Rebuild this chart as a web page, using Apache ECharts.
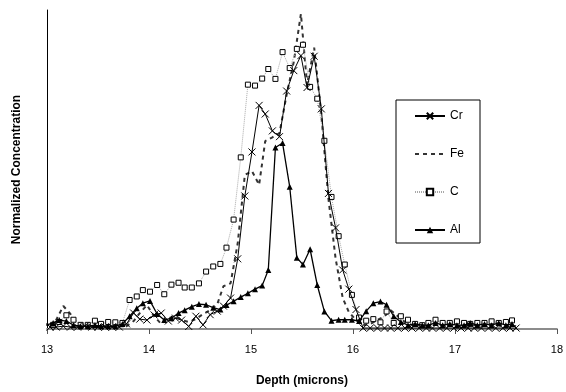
<!DOCTYPE html>
<html>
<head>
<meta charset="utf-8">
<script src="https://cdn.jsdelivr.net/npm/echarts@6/dist/echarts.min.js"></script>
<style>
  html, body { margin: 0; padding: 0; background: #fff; }
</style>
</head>
<body>
<div id="main" style="width: 566px;height:392px;"></div>
<script>
// depth (microns) sampled for C, Al
var depthA = [12.99,13.06,13.12,13.19,13.26,13.33,13.40,13.47,13.53,13.60,13.67,13.74,13.81,13.88,13.94,14.01,14.08,14.15,14.22,14.29,
  14.35,14.42,14.49,14.56,14.63,14.70,14.76,14.83,14.90,14.97,15.04,15.11,15.17,15.24,15.31,15.38,15.45,15.51,15.58,15.65,
  15.72,15.79,15.86,15.92,15.99,16.06,16.13,16.20,16.27,16.33,16.40,16.47,16.54,16.61,16.68,16.74,16.81,16.88,16.95,17.02,
  17.09,17.15,17.22,17.29,17.36,17.43,17.50,17.56];
// depth (microns) sampled for Cr, Fe
var depthB = [13.03,13.09,13.16,13.23,13.30,13.37,13.44,13.50,13.57,13.64,13.71,13.78,13.85,13.91,13.98,14.05,14.12,14.19,14.26,14.32,
  14.39,14.46,14.53,14.60,14.67,14.73,14.80,14.87,14.94,15.01,15.08,15.14,15.21,15.28,15.35,15.42,15.49,15.55,15.62,15.69,
  15.76,15.83,15.90,15.96,16.03,16.10,16.17,16.24,16.31,16.37,16.44,16.51,16.58,16.65,16.72,16.78,16.85,16.92,16.99,17.06,
  17.13,17.19,17.26,17.33,17.40,17.47,17.54,17.60];

var crValues = [0.006,0.006,0.009,0.006,0.006,0.009,0.006,0.006,0.006,0.006,
  0.006,0.016,0.050,0.031,0.028,0.044,0.050,0.025,0.034,0.028,
  0.008,0.040,0.013,0.045,0.056,0.072,0.097,0.220,0.417,0.555,
  0.701,0.674,0.621,0.603,0.746,0.810,0.857,0.757,0.855,0.690,
  0.425,0.317,0.185,0.125,0.061,0.003,0.003,0.003,0.003,0.003,
  0.003,0.003,0.003,0.003,0.003,0.003,0.003,0.003,0.003,0.003,
  0.003,0.003,0.003,0.003,0.003,0.003,0.003,0.003];
var feValues = [0.009,0.028,0.072,0.047,0.016,0.009,0.009,0.009,0.009,0.009,
  0.009,0.009,0.025,0.050,0.075,0.040,0.016,0.034,0.040,0.028,
  0.022,0.031,0.047,0.059,0.078,0.134,0.143,0.268,0.483,0.495,
  0.452,0.589,0.601,0.614,0.735,0.838,0.988,0.766,0.882,0.673,
  0.408,0.221,0.097,0.053,0.028,0.012,0.016,0.028,0.040,0.059,
  0.040,0.022,0.012,0.012,0.009,0.012,0.016,0.012,0.012,0.009,
  0.012,0.012,0.009,0.012,0.012,0.009,0.012,0.009];
var cValues = [0.016,0.013,0.022,0.043,0.029,0.013,0.013,0.026,0.016,0.022,
  0.021,0.019,0.091,0.102,0.122,0.117,0.138,0.109,0.139,0.145,
  0.130,0.130,0.143,0.180,0.196,0.204,0.255,0.343,0.538,0.766,
  0.763,0.785,0.815,0.784,0.868,0.818,0.878,0.891,0.759,0.722,
  0.590,0.414,0.291,0.202,0.107,0.036,0.026,0.031,0.021,0.055,
  0.019,0.040,0.029,0.016,0.012,0.019,0.029,0.019,0.019,0.024,
  0.019,0.016,0.019,0.019,0.024,0.019,0.022,0.027];
var alValues = [0.012,0.019,0.028,0.025,0.012,0.009,0.009,0.012,0.009,0.009,
  0.009,0.016,0.040,0.065,0.081,0.088,0.047,0.028,0.034,0.050,
  0.059,0.070,0.078,0.076,0.067,0.061,0.075,0.087,0.100,0.112,
  0.125,0.136,0.185,0.569,0.583,0.446,0.223,0.202,0.250,0.138,
  0.055,0.026,0.029,0.029,0.029,0.025,0.056,0.081,0.086,0.076,
  0.040,0.022,0.012,0.016,0.012,0.012,0.019,0.012,0.016,0.012,
  0.012,0.019,0.012,0.016,0.012,0.019,0.012,0.016];

var xTicks = [13, 14, 15, 16, 17, 18];

function pairs(xs, ys) {
  return ys.map(function (v, i) { return [xs[i], v]; });
}

var myChart = echarts.init(document.getElementById('main'));
var font = '"Liberation Sans", Arial, sans-serif';

var option = {
  animation: false,
  backgroundColor: '#fff',
  grid: { left: 47, right: 3, top: 10, bottom: 61 },
  legend: {
    orient: 'vertical',
    left: 396,
    top: 100,
    padding: [10, 16, 7, 18],
    borderColor: '#000',
    borderWidth: 1,
    itemWidth: 30,
    itemHeight: 8,
    itemGap: 26,
    textStyle: { fontFamily: font, fontSize: 12, color: '#000' },
    data: ['Cr', 'Fe', 'C', 'Al']
  },
  xAxis: {
    type: 'value',
    min: xTicks[0],
    max: xTicks[xTicks.length - 1],
    interval: 1,
    name: 'Depth (microns)',
    nameLocation: 'middle',
    nameGap: 46,
    nameTextStyle: { fontFamily: font, fontSize: 12, fontWeight: 'bold', color: '#000' },
    axisLine: { onZero: false, lineStyle: { color: '#8c8c8c', width: 2 } },
    axisTick: { show: true, length: 5, lineStyle: { color: '#555', width: 1 } },
    axisLabel: { fontFamily: font, fontSize: 11, color: '#000', margin: 15 },
    splitLine: { show: false }
  },
  yAxis: {
    type: 'value',
    min: 0,
    max: 1,
    name: 'Normalized Concentration',
    nameLocation: 'middle',
    nameGap: 24,
    nameTextStyle: { fontFamily: font, fontSize: 12, fontWeight: 'bold', color: '#000' },
    axisLine: { show: true, lineStyle: { color: '#000', width: 1 } },
    axisTick: { show: false },
    axisLabel: { show: false },
    splitLine: { show: false }
  },
  series: [
    {
      name: 'Cr',
      type: 'line',
      data: pairs(depthB, crValues),
      symbol: 'path://M0,0L10,10M10,0L0,10',
      symbolSize: 7,
      showAllSymbol: true,
      lineStyle: { color: '#000', width: 1 },
      itemStyle: { color: '#000', borderColor: '#000', borderWidth: 1 },
      z: 3
    },
    {
      name: 'Fe',
      type: 'line',
      data: pairs(depthB, feValues),
      symbol: 'none',
      lineStyle: { color: '#333', width: 2, type: [4, 4] },
      itemStyle: { color: 'rgba(0,0,0,0)' },
      z: 2
    },
    {
      name: 'C',
      type: 'line',
      data: pairs(depthA, cValues),
      symbol: 'rect',
      symbolSize: 5,
      showAllSymbol: true,
      lineStyle: { color: '#a8a8a8', width: 1, type: [1, 1] },
      itemStyle: { color: '#fff', borderColor: '#000', borderWidth: 1 },
      z: 2
    },
    {
      name: 'Al',
      type: 'line',
      data: pairs(depthA, alValues),
      symbol: 'triangle',
      symbolSize: 6,
      showAllSymbol: true,
      lineStyle: { color: '#000', width: 1.3 },
      itemStyle: { color: '#000' },
      z: 4
    }
  ]
};

myChart.setOption(option);
</script>
</body>
</html>
